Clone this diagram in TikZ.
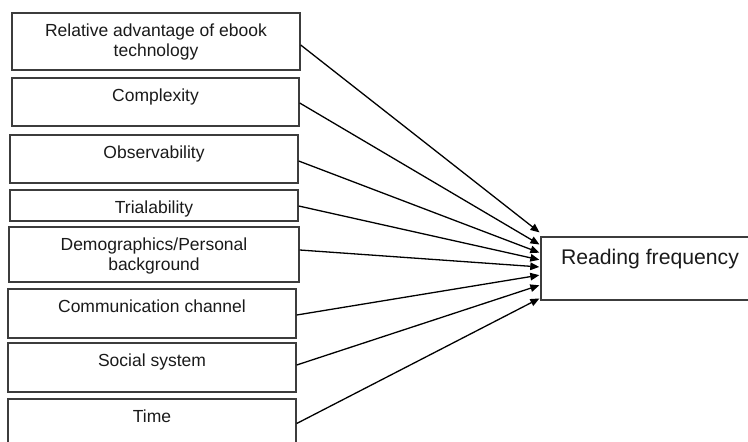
\documentclass[tikz,border=0pt]{standalone}
\usepackage{fontspec}
\setmainfont{Liberation Sans}
\usepackage{tikz}
\usetikzlibrary{arrows.meta}
\definecolor{boxline}{HTML}{3C3C3C}
\definecolor{inktext}{HTML}{1A1A1A}

\begin{document}
\begin{tikzpicture}[x=1pt,y=-1pt,
  factor/.style={draw=boxline,line width=1.4pt,rectangle,inner sep=0pt},
  lbl/.style={anchor=north,inner sep=0pt,align=center,text=inktext,font=\fontsize{17.5}{20.5}\selectfont},
  arr/.style={line width=1.3pt,-{Triangle[length=9pt,width=7.5pt]},shorten >=1pt}]

\useasboundingbox (0,0) rectangle (748,442);

% factors on the left
\node[factor,minimum width=288pt,minimum height=57pt] (f1) at (156,41.5) {};
\node[factor,minimum width=287pt,minimum height=48pt] (f2) at (155.5,102) {};
\node[factor,minimum width=288pt,minimum height=48pt] (f3) at (154,159) {};
\node[factor,minimum width=288pt,minimum height=31pt] (f4) at (154,205.5) {};
\node[factor,minimum width=290pt,minimum height=55pt] (f5) at (154,254.5) {};
\node[factor,minimum width=288pt,minimum height=49pt] (f6) at (152,313.5) {};
\node[factor,minimum width=288pt,minimum height=49pt] (f7) at (152,367.5) {};
\node[factor,minimum width=288pt,minimum height=49pt] (f8) at (152,423.5) {};

\node[lbl] (l1) at ([yshift=-11pt]f1.north) {Relative advantage of ebook\\technology};
\node[lbl] (l2) at ([yshift=-11pt]f2.north) {Complexity};
\node[lbl] (l3) at ([yshift=-11pt]f3.north) {Observability};
\node[lbl] (l4) at ([yshift=-11pt]f4.north) {Trialability};
\node[lbl] (l5) at ([yshift=-11pt]f5.north) {Demographics/Personal\\background};
\node[lbl] (l6) at ([yshift=-11pt]f6.north) {Communication channel};
\node[lbl] (l7) at ([yshift=-11pt]f7.north) {Social system};
\node[lbl] (l8) at ([yshift=-11pt]f8.north) {Time};

% outcome
\node[factor,minimum width=218pt,minimum height=63pt] (rf) at (650,268.5) {};
\node[lbl,font=\fontsize{21.2}{25}\selectfont] (lrf) at ([yshift=-12.7pt]rf.north) {Reading frequency};

\foreach \i/\s/\e in {1/-3.5/35.5,2/-1/23.5,3/-2/15.5,4/-0.5/8.5,5/4.5/1.5,6/-1.5/-6.5,7/2.5/-16.5,8/0/-29.5}
  \draw[arr] ([yshift=\s pt]f\i.east) -- ([yshift=\e pt]rf.west);

\end{tikzpicture}
\end{document}
